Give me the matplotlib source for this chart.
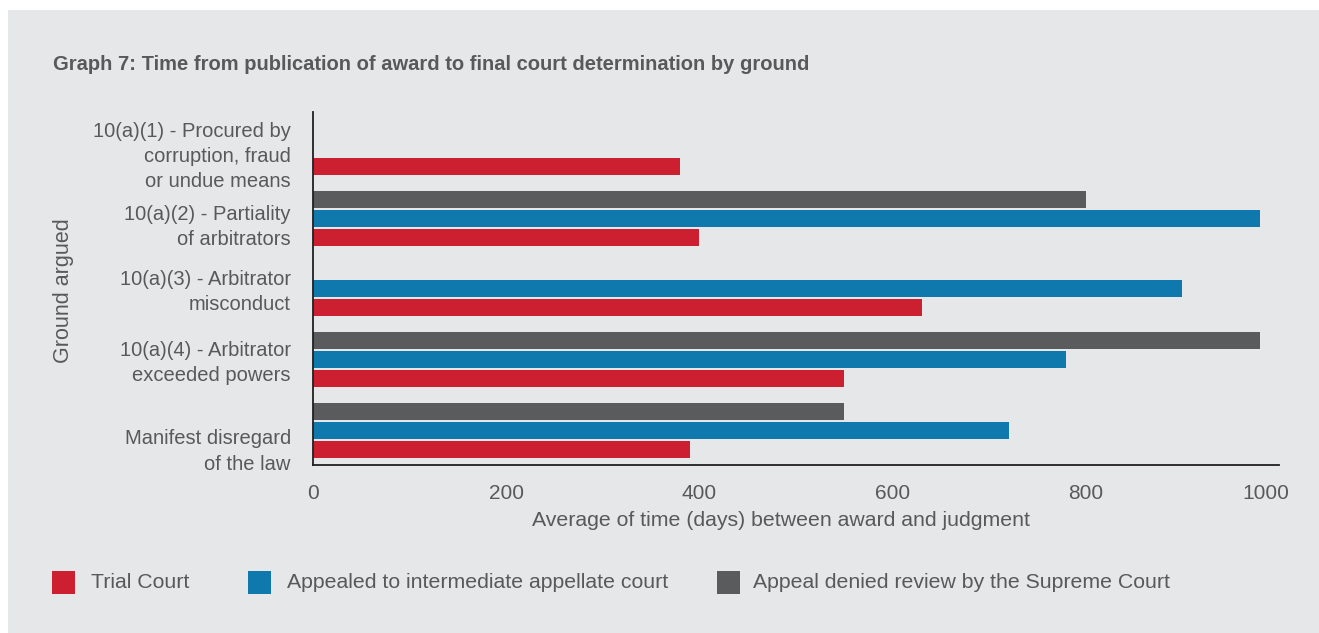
import numpy as np
import matplotlib
matplotlib.use('Agg')
import matplotlib.pyplot as plt
from matplotlib.patches import Rectangle
from matplotlib.transforms import ScaledTranslation

# Grounds, top to bottom
grounds = [
    '10(a)(1) - Procured by\ncorruption, fraud\nor undue means',
    '10(a)(2) - Partiality\nof arbitrators',
    '10(a)(3) - Arbitrator\nmisconduct',
    '10(a)(4) - Arbitrator\nexceeded powers',
    'Manifest disregard\nof the law',
]
# Average days between award and judgment (nan = no cases)
trial_court = [380, 400, 630, 550, 390]
appellate_court = [np.nan, 980, 900, 780, 720]
supreme_denied = [np.nan, 800, np.nan, 980, 550]

series_names = ['Trial Court', 'Appealed to intermediate appellate court',
                'Appeal denied review by the Supreme Court']
colors = ['#cc1f30', '#0f79ad', '#5a5b5d']

TEXT = '#58595b'
BG = '#e6e7e8'
plt.rcParams['font.family'] = ['Liberation Sans', 'DejaVu Sans']

fig = plt.figure(figsize=(13.19, 6.33), dpi=100)
fig.patch.set_facecolor('white')
fig.add_artist(Rectangle((8 / 1319, 0), 1, 1 - 10 / 633, transform=fig.transFigure,
                         facecolor=BG, edgecolor='none', zorder=0))

ax = fig.add_axes([313 / 1319, 1 - 465 / 633, 966 / 1319, 353 / 633])
ax.patch.set_alpha(0)

y = np.arange(len(grounds))
h = 0.24
step = 0.268
ax.barh(y + step, trial_court, height=h, color=colors[0], linewidth=0)
ax.barh(y, appellate_court, height=h, color=colors[1], linewidth=0)
ax.barh(y - step, supreme_denied, height=h, color=colors[2], linewidth=0)

ax.set_xlim(0, 1000)
ax.set_ylim(4.49, -0.5)
ax.set_xticks([0, 200, 400, 600, 800, 1000])
ax.set_yticks(y)
ax.set_yticklabels(grounds, fontsize=14.5, color=TEXT, linespacing=1.42)
ax.tick_params(axis='both', length=0)
ax.tick_params(axis='y', pad=16)
ax.tick_params(axis='x', pad=14, labelsize=15, labelcolor=TEXT)

# nudge multi-line labels vertically (pixels, positive = down)
nudges = [4, 4, -2, -2, 16]
for lab, dy in zip(ax.get_yticklabels(), nudges):
    lab.set_transform(lab.get_transform() + ScaledTranslation(0, -dy / 100, fig.dpi_scale_trans))
last = ax.get_xticklabels()[-1]
last.set_transform(last.get_transform() + ScaledTranslation(-13 / 100, 0, fig.dpi_scale_trans))

for side in ['top', 'right']:
    ax.spines[side].set_visible(False)
for side in ['left', 'bottom']:
    ax.spines[side].set_color('#231f20')
    ax.spines[side].set_linewidth(1.3)

fig.text(53 / 1319, 1 - 65 / 633,
         'Graph 7: Time from publication of award to final court determination by ground',
         fontsize=14.5, fontweight='bold', color=TEXT, va='center', ha='left')
fig.text(63 / 1319, 1 - 291 / 633, 'Ground argued', rotation=90, fontsize=15.5,
         color=TEXT, va='center', ha='center')
fig.text(781 / 1319, 1 - 520 / 633, 'Average of time (days) between award and judgment',
         fontsize=15.3, color=TEXT, va='center', ha='center')

# legend swatches and labels
sw_x = [52, 248, 717]
tx_x = [91, 287, 753]
for sx, tx, col, name in zip(sw_x, tx_x, colors, series_names):
    fig.add_artist(Rectangle((sx / 1319, 1 - 594 / 633), 23 / 1319, 23 / 633,
                             transform=fig.transFigure, facecolor=col, edgecolor='none'))
    fig.text(tx / 1319, 1 - 582 / 633, name, fontsize=15.3, color=TEXT,
             va='center', ha='left')

fig.savefig('out.png', dpi=100, facecolor=fig.get_facecolor())
